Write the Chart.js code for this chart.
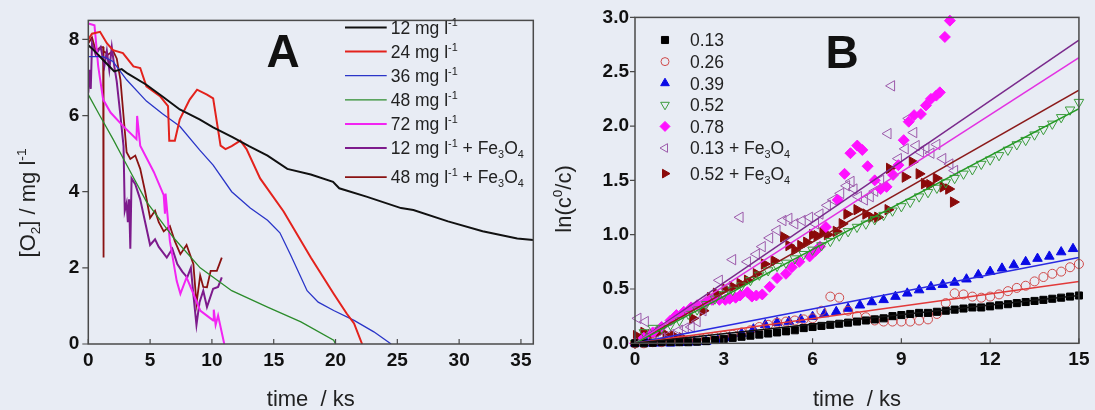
<!DOCTYPE html>
<html><head><meta charset="utf-8">
<script src="https://cdn.jsdelivr.net/npm/chart.js@4"></script>
<style>
html,body{margin:0;padding:0;background:#e8ecf4;}
#wrap{position:relative;width:1095px;height:410px;overflow:hidden;background:#e8ecf4;}
canvas{position:absolute;top:0;}
#cA{left:0;width:547px;height:410px;}
#cB{left:547px;width:548px;height:410px;}
</style></head><body>
<div id="wrap"><canvas id="cA" width="547" height="410"></canvas><canvas id="cB" width="548" height="410"></canvas></div>
<script>
// ---------- Panel A data: [O2] vs time (ks) ----------
const aLabels = ["12 mg l^{-1}","24 mg l^{-1}","36 mg l^{-1}","48 mg l^{-1}","72 mg l^{-1}","12 mg l^{-1} + Fe_{3}O_{4}","48 mg l^{-1} + Fe_{3}O_{4}"];
const a12X = [0,0.5,1.2,2.1,2.7,3.2,4.7,6,7.4,9,10.1,11.7,13,14.5,16.1,18,19.8,20.3,22.5,25.3,26.3,29.1,31.9,34.7,36];
const a12Y = [7.85,7.7,7.46,7.16,7.22,7.1,6.81,6.5,6.16,5.9,5.69,5.43,5.2,4.95,4.6,4.45,4.26,4.09,3.87,3.57,3.52,3.22,2.96,2.77,2.73];
const a24X = [0,0.3,0.95,1.5,2.0,2.8,3.65,4.2,4.7,5.8,6.45,6.55,7.0,7.4,8.2,8.8,9.6,10.1,10.7,11.1,11.6,12.3,12.8,13.9,15.8,18,19.85,20.9,21.5,22.15];
const a24Y = [8.0,8.15,8.2,7.9,7.72,7.64,7.29,7.25,6.77,6.51,6.25,5.34,5.34,5.9,6.42,6.68,6.55,6.45,5.21,5.12,5.2,5.34,5.12,4.35,3.48,2.27,1.32,0.8,0.54,0];
const a36X = [0,1.2,2.0,3.1,4.7,6,7.4,9,10.1,11.6,13.1,14.5,15.5,16.35,17.7,18.6,19.85,21.5,23.1,24.5];
const a36Y = [7.55,7.55,7.42,6.94,6.38,6.05,5.72,5.1,4.7,4.0,3.57,3.25,2.92,2.35,1.4,1.1,0.88,0.62,0.32,0];
const a48X = [0,0.95,2.0,2.85,4.7,6.9,9.05,11.6,14.5,17.2,19.85,20];
const a48Y = [6.55,5.99,5.38,4.86,3.74,2.79,2.0,1.4,0.97,0.58,0.1,0];
const a72X = [0,0.5,0.8,1.2,1.8,2.8,3.9,3.95,4.2,5.3,6.1,6.2,6.25,6.6,7.15,7.45,7.95,8.5,9.05,10.1,10.15,10.3,10.5,11.0];
const a72Y = [8.42,8.37,7.3,6.42,6.08,5.73,5.38,5.99,5.21,4.52,3.91,3.42,3.95,2.7,1.66,1.32,1.75,1.32,0.88,0.62,0.9,0.5,0.75,0];
const a12FeX = [0,0.1,0.2,0.3,0.6,1.0,1.3,1.5,1.7,1.9,2.1,2.3,2.6,2.85,2.95,3.1,3.2,3.3,3.4,3.5,3.8,4.2,4.6,5.0,5.4,5.7,6.35,6.8,7.2,7.6,8.0,8.3,8.5,8.75,9.0,9.3,9.6,10.1,10.5,10.8];
const a12FeY = [6.6,7.2,6.7,7.9,7.6,7.8,7.3,7.7,7.2,7.8,7.3,6.9,6.0,5.2,3.5,3.7,3.2,3.8,2.5,4.35,4.2,3.8,3.2,2.6,2.75,2.55,2.27,2.5,2.1,1.9,1.75,2.0,1.3,0.5,1.1,1.4,0.97,1.45,1.5,1.75];
const a48FeX = [0,0.3,0.6,1.0,1.2,1.22,1.25,1.6,2.0,2.3,2.6,3.1,3.4,3.8,4.2,4.6,5.0,5.4,5.7,6.1,6.6,7.0,7.45,7.95,8.5,8.75,9.05,9.3,9.6,9.9,10.4,10.8];
const a48FeY = [7.9,8.05,7.7,7.8,7.8,2.27,7.7,7.6,7.7,7.5,6.94,5.04,4.86,4.95,4.6,4.0,3.31,3.5,3.2,2.96,3.1,2.7,2.36,2.6,2.1,1.06,1.8,1.5,1.49,1.92,1.92,2.27];

// ---------- Panel B data: ln(c0/c) vs time (ks) ----------
const bLabels = ["0.13","0.26","0.39","0.52","0.78","0.13 + Fe_{3}O_{4}","0.52 + Fe_{3}O_{4}"];
const t03 = [0,0.3,0.6,0.9,1.2,1.5,1.8,2.1,2.4,2.7,3,3.3,3.6,3.9,4.2,4.5,4.8,5.1,5.4,5.7,6,6.3,6.6,6.9,7.2,7.5,7.8,8.1,8.4,8.7,9,9.3,9.6,9.9,10.2,10.5,10.8,11.1,11.4,11.7,12,12.3,12.6,12.9,13.2,13.5,13.8,14.1,14.4,14.7,15];
const b013Y = [0,0,0.005,0.01,0.01,0.01,0.01,0.015,0.02,0.03,0.04,0.05,0.06,0.07,0.08,0.09,0.1,0.11,0.12,0.14,0.15,0.16,0.17,0.18,0.19,0.2,0.21,0.22,0.23,0.25,0.26,0.27,0.28,0.28,0.29,0.3,0.31,0.32,0.33,0.33,0.34,0.35,0.36,0.37,0.38,0.39,0.4,0.41,0.42,0.43,0.44];
const b026Y = [0,0,0.01,0.01,0.02,0.02,0.03,0.04,0.05,0.06,0.07,0.08,0.1,0.12,0.15,0.17,0.19,0.2,0.21,0.22,0.23,0.3,0.43,0.42,0.3,0.25,0.24,0.21,0.2,0.2,0.2,0.2,0.21,0.22,0.27,0.37,0.46,0.45,0.43,0.42,0.43,0.45,0.48,0.51,0.53,0.57,0.61,0.64,0.66,0.7,0.73];
const t04 = [0,0.4,0.8,1.2,1.6,2,2.4,2.8,3.2,3.6,4,4.4,4.8,5.2,5.6,6,6.4,6.8,7.2,7.6,8,8.4,8.8,9.2,9.6,10,10.4,10.8,11.2,11.6,12,12.4,12.8,13.2,13.6,14,14.4,14.8];
const b039Y = [0,0,0,0,0.005,0.01,0.015,0.03,0.05,0.09,0.13,0.17,0.19,0.2,0.22,0.245,0.27,0.29,0.32,0.35,0.38,0.4,0.43,0.46,0.49,0.52,0.54,0.56,0.59,0.63,0.66,0.69,0.72,0.75,0.78,0.8,0.84,0.87];
const b052Y = [0,0.1,0.14,0.14,0.17,0.21,0.27,0.31,0.36,0.41,0.45,0.49,0.53,0.58,0.63,0.67,0.71,0.74,0.78,0.82,0.86,0.9,0.94,0.99,1.03,1.07,1.1,1.14,1.18,1.22,1.26,1.3,1.35,1.39,1.43,1.48,1.52,1.56,1.6,1.65,1.69,1.73,1.78,1.83,1.87,1.92,1.97,2.02,2.08,2.15,2.22];
const b078X = [0,0.3,0.6,0.9,1.2,1.4,1.65,1.9,2.1,2.4,2.6,2.85,3.05,3.2,3.4,3.55,3.8,3.95,4.1,4.3,4.55,4.8,5.1,5.3,5.55,5.9,6.1,6.25,6.45,6.85,7.08,7.28,7.51,7.68,7.86,8.1,8.3,8.5,8.72,8.9,9.08,9.25,9.43,9.66,9.83,10.0,10.18,10.3,10.47,10.64];
const b078Y = [0,0.05,0.1,0.15,0.21,0.26,0.29,0.33,0.35,0.38,0.4,0.4,0.4,0.41,0.42,0.44,0.47,0.43,0.44,0.45,0.52,0.6,0.64,0.7,0.75,0.8,0.85,0.89,1.07,1.32,1.56,1.75,1.82,1.78,1.63,1.5,1.42,1.44,1.55,1.64,1.87,2.04,2.1,2.11,2.19,2.25,2.28,2.31,2.82,2.97];
const b013FeX = [0.1,0.35,0.6,0.9,1.2,1.5,1.7,1.9,2.1,2.3,2.55,2.85,3.1,3.3,3.55,3.8,4.1,4.3,4.55,4.8,5.0,5.2,5.4,5.65,5.9,6.1,6.25,6.5,6.7,6.95,7.15,7.3,7.4,7.55,7.75,7.95,8.1,8.3,8.55,8.67,8.9,9.13,9.25,9.42,9.5,9.65,9.83,10.0,10.2,10.4,10.64,10.8];
const b013FeY = [0.23,0.2,0.1,0.05,0.08,0.12,0.14,0.15,0.2,0.3,0.4,0.58,0.5,0.77,1.16,0.75,0.82,0.89,0.97,1.04,1.13,1.15,1.1,1.13,1.16,1.1,1.19,1.27,1.32,1.38,1.45,1.49,1.42,1.35,1.32,1.35,1.4,1.5,1.93,2.37,1.7,1.79,2.07,1.94,1.82,1.76,1.8,1.75,1.83,1.7,1.65,1.59];
const b052FeX = [0.05,0.3,0.55,0.8,1.05,1.3,1.6,1.95,2.3,2.55,2.75,3.05,3.3,3.55,3.8,4.1,4.37,4.7,5.02,5.2,5.4,5.6,5.8,6.0,6.15,6.35,6.5,6.8,7.0,7.16,7.5,7.8,8.0,8.2,8.55,8.6,9.13,9.37,9.6,9.78,9.96,10.18,10.41,10.6,10.76];
const b052FeY = [0.07,0.1,0.08,0.1,0.08,0.07,0.05,0.23,0.3,0.42,0.46,0.5,0.52,0.55,0.58,0.64,0.73,0.76,0.98,0.9,0.86,0.9,0.93,1.0,0.99,1.02,1.0,1.03,1.1,1.19,1.23,1.19,1.16,1.16,1.23,1.61,1.53,1.67,1.56,1.47,1.46,1.52,1.44,1.42,1.3];
// linear fits through origin: value at t = 15 ks, same order as bLabels
const fitT = [0,15];
const fitEnd = [0.44,0.57,0.79,2.16,2.63,2.79,2.33];

// ---------- helpers ----------
const FAM = "'Liberation Sans', Arial, Helvetica, sans-serif";
function pts(xs, ys){ return xs.map((x,i)=>({x:x, y:ys[i]})); }
function richParts(s){
  const out=[]; const re=/(\^\{[^}]*\}|_\{[^}]*\})/g; let last=0, m;
  while((m=re.exec(s))){ if(m.index>last) out.push({t:s.slice(last,m.index),k:0});
    out.push({t:m[0].slice(2,-1),k:m[0][0]==='^'?1:-1}); last=re.lastIndex; }
  if(last<s.length) out.push({t:s.slice(last),k:0});
  return out;
}
function drawRich(ctx, s, x, yMid, size, align, color, weight){
  const parts = richParts(s); weight = weight||'normal';
  let w = 0;
  parts.forEach(p=>{ const fs = p.k? size*0.62 : size; ctx.font = weight+' '+fs+'px '+FAM; p.fs=fs; p.w=ctx.measureText(p.t).width; w+=p.w; });
  let cx = align==='center' ? x - w/2 : (align==='right' ? x - w : x);
  const base = yMid + 0.36*size;
  ctx.fillStyle = color; ctx.textAlign='left'; ctx.textBaseline='alphabetic';
  parts.forEach(p=>{ ctx.font = weight+' '+p.fs+'px '+FAM;
    const yb = p.k===1 ? base-0.42*size : (p.k===-1 ? base+0.22*size : base);
    ctx.fillText(p.t, cx, yb); cx += p.w; });
}
function drawMarker(ctx, style, rot, r, x, y, fill, stroke, lw){
  ctx.save(); ctx.translate(x,y); ctx.rotate(rot*Math.PI/180); ctx.beginPath();
  if(style==='rect'){ const s=r*Math.SQRT1_2; ctx.rect(-s,-s,2*s,2*s); }
  else if(style==='circle'){ ctx.arc(0,0,r,0,Math.PI*2); }
  else if(style==='rectRot'){ ctx.moveTo(0,-r); ctx.lineTo(r,0); ctx.lineTo(0,r); ctx.lineTo(-r,0); ctx.closePath(); }
  else if(style==='triangle'){ ctx.moveTo(0,-r); ctx.lineTo(r*0.866,r*0.5); ctx.lineTo(-r*0.866,r*0.5); ctx.closePath(); }
  ctx.fillStyle=fill; ctx.fill(); ctx.lineWidth=lw; ctx.strokeStyle=stroke; ctx.stroke(); ctx.restore();
}
function decor(o){
  return { id:'decor'+o.name, afterDraw(chart){
    const ctx = chart.ctx, ca = chart.chartArea, xs = chart.scales.x, ys = chart.scales.y;
    ctx.save();
    ctx.strokeStyle = '#4a4a4a'; ctx.lineWidth = 1.5;
    ctx.strokeRect(ca.left, ca.top, ca.right-ca.left, ca.bottom-ca.top);
    ctx.beginPath();
    xs.ticks.forEach(t=>{ const p = xs.getPixelForValue(t.value); ctx.moveTo(p, ca.bottom); ctx.lineTo(p, ca.bottom-5); });
    ys.ticks.forEach(t=>{ const p = ys.getPixelForValue(t.value); ctx.moveTo(ca.left-o.yTick, p); ctx.lineTo(ca.left, p); });
    ctx.lineWidth = 1.2; ctx.stroke();
    // axis titles
    drawRich(ctx, 'time  / ks', (ca.left+ca.right)/2, 398, 22, 'center', '#222');
    ctx.save(); ctx.translate(o.yTitleX, o.yTitleY); ctx.rotate(-Math.PI/2);
    drawRich(ctx, o.yTitle, 0, 0, 22, 'center', '#222'); ctx.restore();
    // panel letter
    ctx.font = 'bold 46px '+FAM; ctx.fillStyle='#111'; ctx.textAlign='center'; ctx.textBaseline='middle';
    ctx.fillText(o.letter, o.letterX, o.letterY);
    // legend
    o.legend(ctx, chart);
    ctx.restore();
  }};
}
const tickFont = {family:FAM, size:19, weight:'bold'};

// ---------- Chart A ----------
const aSeries = [
  {x:a12X, y:a12Y, c:'#111111', w:2},
  {x:a24X, y:a24Y, c:'#e3221c', w:2},
  {x:a36X, y:a36Y, c:'#2a35c8', w:1.3},
  {x:a48X, y:a48Y, c:'#2c8c2c', w:1.3},
  {x:a72X, y:a72Y, c:'#f224f2', w:2},
  {x:a12FeX, y:a12FeY, c:'#7d1b8c', w:2},
  {x:a48FeX, y:a48FeY, c:'#8a1212', w:1.8}
];
const chartA = new Chart(document.getElementById('cA'), {
  type:'line',
  data:{datasets: aSeries.map((s,i)=>({label:aLabels[i], data:pts(s.x,s.y), borderColor:s.c, borderWidth:s.w, pointRadius:0, tension:0, fill:false}))},
  options:{
    responsive:false, animation:false, devicePixelRatio:1, events:[],
    layout:{padding:{top:17, right:13.7, left:0, bottom:0}},
    plugins:{legend:{display:false}, tooltip:{enabled:false}},
    scales:{
      x:{type:'linear', min:0, max:36, afterFit(s){ s.height = 66; },
        grid:{display:false, drawTicks:false}, border:{display:false},
        ticks:{stepSize:5, includeBounds:false, padding:5.5, color:'#111', font:tickFont, maxRotation:0, autoSkip:false}},
      y:{type:'linear', min:0, max:8.5, afterFit(s){ s.width = 88.3; },
        grid:{display:false, drawTicks:false}, border:{display:false},
        ticks:{stepSize:2, includeBounds:false, padding:9, color:'#111', font:tickFont}}
    }
  },
  plugins:[decor({name:'A', yTick:6, yTitle:'[O_{2}] / mg l^{-1}', yTitleX:27, yTitleY:203, letter:'A', letterX:283, letterY:54,
    legend(ctx, chart){
      chart.data.datasets.forEach((d,i)=>{
        const y = 27.5 + i*24.1 + (i===6?5:0);
        ctx.beginPath(); ctx.moveTo(345, y); ctx.lineTo(386.7, y); ctx.strokeStyle=d.borderColor; ctx.lineWidth=d.borderWidth; ctx.stroke();
        drawRich(ctx, aLabels[i], 390.7, y, 17.5, 'left', '#222');
      });
    }})]
});

// ---------- Chart B ----------
const bMarkers = [
  {x:t03, y:b013Y, style:'rect', rot:0, r:5, fill:'#000000', stroke:'#000000', lw:1, line:'#111111'},
  {x:t03, y:b026Y, style:'circle', rot:0, r:4.5, fill:'rgba(0,0,0,0)', stroke:'#cf4a4a', lw:1, line:'#e23a3a'},
  {x:t04, y:b039Y, style:'triangle', rot:0, r:5.5, fill:'#0a0ae6', stroke:'#0a0ae6', lw:1, line:'#2a2ae0'},
  {x:t03, y:b052Y, style:'triangle', rot:180, r:5.5, fill:'rgba(0,0,0,0)', stroke:'#3c9c3c', lw:1, line:'#259a25'},
  {x:b078X, y:b078Y, style:'rectRot', rot:0, r:5.5, fill:'#ff10ff', stroke:'#ff10ff', lw:1, line:'#e232e2'},
  {x:b013FeX, y:b013FeY, style:'triangle', rot:270, r:6, fill:'rgba(0,0,0,0)', stroke:'#9c5aaa', lw:1, line:'#7a2a8c'},
  {x:b052FeX, y:b052FeY, style:'triangle', rot:90, r:6, fill:'#8b0a0a', stroke:'#8b0a0a', lw:1, line:'#8b1a1a'}
];
const bDatasets = [];
bMarkers.forEach((m,i)=>{
  bDatasets.push({label:'fit '+bLabels[i], data:pts(fitT,[0,fitEnd[i]]), showLine:true, borderColor:m.line, borderWidth:1.5, pointRadius:0, order:0});
});
bMarkers.forEach((m,i)=>{
  bDatasets.push({label:bLabels[i], data:pts(m.x,m.y), showLine:false, pointStyle:m.style, rotation:m.rot, pointRadius:m.r,
    backgroundColor:m.fill, borderColor:m.stroke, pointBorderWidth:m.lw, order:1, clip:6});
});
const chartB = new Chart(document.getElementById('cB'), {
  type:'scatter',
  data:{datasets:bDatasets},
  options:{
    responsive:false, animation:false, devicePixelRatio:1, events:[],
    layout:{padding:{top:17, right:15, left:0, bottom:0}},
    plugins:{legend:{display:false}, tooltip:{enabled:false}},
    scales:{
      x:{type:'linear', min:0, max:15, afterFit(s){ s.height = 66.7; },
        grid:{display:false, drawTicks:false}, border:{display:false},
        ticks:{stepSize:3, padding:5.5, color:'#111', font:tickFont, maxRotation:0, autoSkip:false}},
      y:{type:'linear', min:0, max:3, afterFit(s){ s.width = 88; },
        grid:{display:false, drawTicks:false}, border:{display:false},
        ticks:{stepSize:0.5, padding:6, color:'#111', font:tickFont, callback:(v)=>Number(v).toFixed(1)}}
    }
  },
  plugins:[decor({name:'B', yTick:5, yTitle:'ln(c^{0}/c)', yTitleX:16, yTitleY:199, letter:'B', letterX:295, letterY:55,
    legend(ctx, chart){
      bMarkers.forEach((m,i)=>{
        const y = 40 + i*21.6 + (i===6?4:0);
        const fill = m.fill.indexOf('rgba')===0 ? 'rgba(0,0,0,0)' : m.fill;
        drawMarker(ctx, m.style, m.rot, m.style==='rect'?5:(m.style==='circle'?4:5), 118, y, fill, m.stroke, 1);
        drawRich(ctx, bLabels[i], 143, y, 17.5, 'left', '#222');
      });
    }})]
});
</script>
</body></html>
